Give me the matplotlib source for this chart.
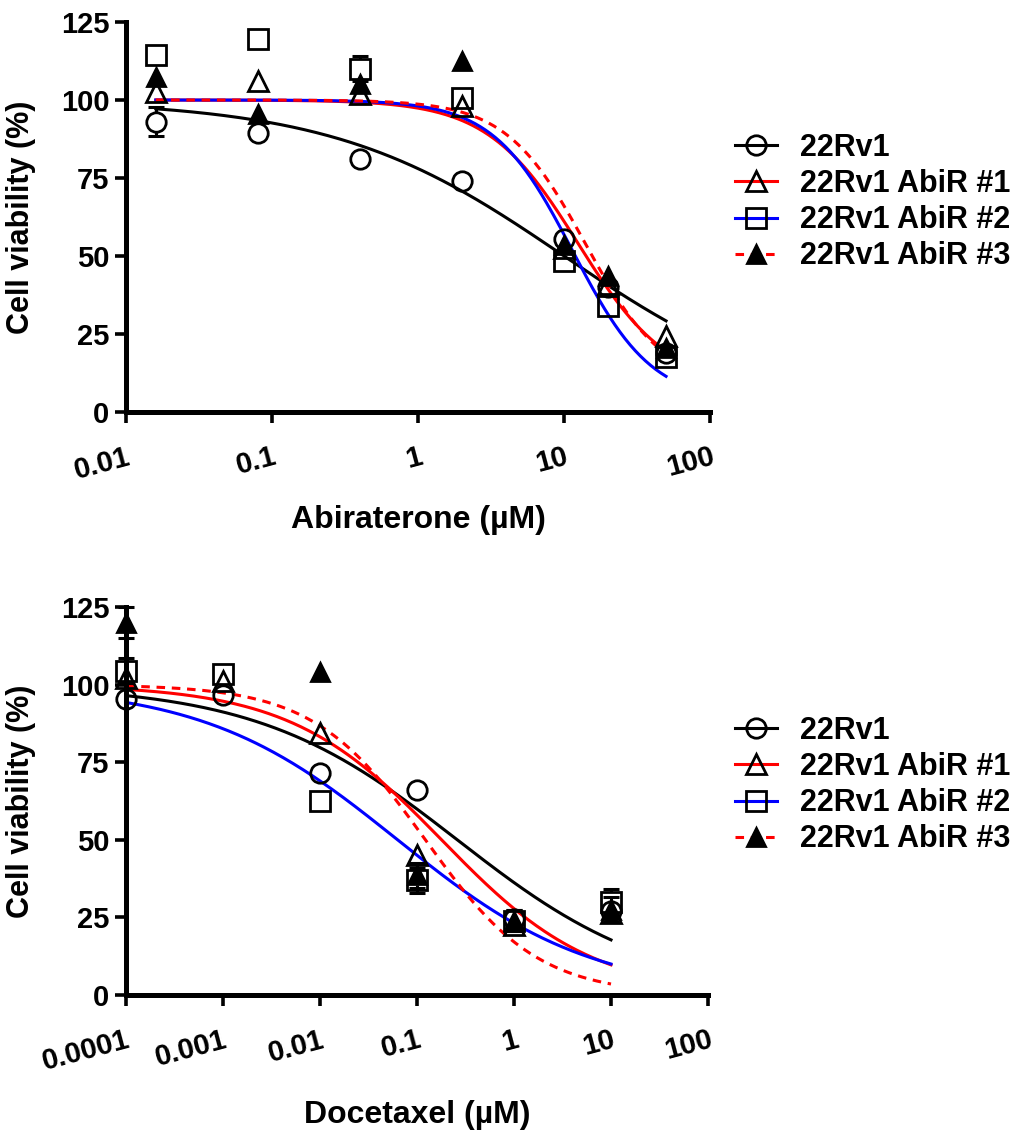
import numpy as np
import matplotlib.pyplot as plt
from matplotlib.lines import Line2D

plt.rcParams['font.family'] = ['Liberation Sans', 'DejaVu Sans']
plt.rcParams['font.weight'] = 'bold'

series_names = ["22Rv1", "22Rv1 AbiR #1", "22Rv1 AbiR #2", "22Rv1 AbiR #3"]

# Abiraterone panel
abi_conc = [0.016, 0.08, 0.4, 2, 10, 20, 50]
abi_parental = [93, 89.5, 81, 74, 55.5, 40, 19]
abi_r1 = [102.5, 106, 102, 98, 52.5, 41, 24.5]
abi_r2 = [114.5, 119.5, 110, 100.5, 48.5, 34, 17.5]
abi_r3 = [107.5, 95.5, 105, 112.5, 53.5, 43.5, 20.5]
abi_err_parental = [4.6, 0, 0, 0, 0, 0, 0]
abi_err_r2 = [0, 0, 4, 0, 0, 0, 0]
# fitted curve parameters (top, bottom, IC50, hill)
abi_fit_top = [100, 100, 100, 100]
abi_fit_bottom = [0, 8, 3, 8]
abi_fit_ic50 = [10, 12.5, 11.5, 14]
abi_fit_hill = [0.55, 1.4, 1.6, 1.6]
abi_ticks = [0.01, 0.1, 1, 10, 100]
abi_ticklabels = ["0.01", "0.1", "1", "10", "100"]

# Docetaxel panel
doc_conc = [0.0001, 0.001, 0.01, 0.1, 1, 10]
doc_parental = [95.5, 96.5, 71.5, 66, 24.5, 27]
doc_r1 = [102, 101, 84.5, 45, 22.5, 26.5]
doc_r2 = [104.5, 103.5, 62.5, 37, 24, 30]
doc_r3 = [120, np.nan, 104, 38.5, 24, 27.5]
doc_err_r2 = [4, 0, 0, 4, 3.5, 4]
doc_err_r3 = [5, 0, 0, 4, 3.5, 4]
doc_fit_top = [100, 100, 100, 100]
doc_fit_bottom = [0, 0, 0, 0]
doc_fit_ic50 = [0.26, 0.179, 0.063, 0.122]
doc_fit_hill = [0.42, 0.554, 0.434, 0.75]
doc_ticks = [0.0001, 0.001, 0.01, 0.1, 1, 10, 100]
doc_ticklabels = ["0.0001", "0.001", "0.01", "0.1", "1", "10", "100"]

yticks = [0, 25, 50, 75, 100, 125]

line_colors = ["black", "red", "blue", "red"]
line_styles = ["-", "-", "-", (0, (2.8, 2.2))]
markers = ["o", "^", "s", "^"]
marker_fill = ["none", "none", "none", "black"]
marker_sizes = [14, 14, 14.5, 13]


def logistic(x, top, bottom, ic50, hill):
    return bottom + (top - bottom) / (1 + (x / ic50) ** hill)


def draw_errors(ax, conc, vals, errs, ms):
    # GraphPad style: bars start at the marker edge, capped ends
    px_per_unit = ax.bbox.height / 125
    r = ms * 100 / 72 / 2 / px_per_unit
    for x, v, e in zip(conc, vals, errs):
        if e <= r:
            continue
        for sgn in (1, -1):
            ax.plot([x, x], [v + sgn * r, v + sgn * e], color="black", lw=2.2,
                    zorder=3, clip_on=False, solid_capstyle="butt")
            ax.plot([x], [v + sgn * e], marker="_", ms=12, mew=2.2, color="black",
                    zorder=3, clip_on=False)


def draw_panel(ax, conc, values, errors, fit, ticks, ticklabels, xlabel):
    conc = np.array(conc)
    xs = np.logspace(np.log10(conc[0]), np.log10(conc[-1]), 300)
    tops, bottoms, ic50s, hills = fit
    for i in range(4):
        ys = logistic(xs, tops[i], bottoms[i], ic50s[i], hills[i])
        ax.plot(xs, ys, color=line_colors[i], ls=line_styles[i], lw=2.2, zorder=2)
    for i in range(4):
        if errors[i] is not None:
            draw_errors(ax, conc, values[i], errors[i], marker_sizes[i])
        ax.plot(conc, values[i], ls="none", marker=markers[i], ms=marker_sizes[i],
                mfc=marker_fill[i], mec="black", mew=2.0, zorder=4, clip_on=False)

    ax.set_xscale("log")
    ax.set_xlim(ticks[0], ticks[-1])
    ax.set_ylim(0, 125)
    ax.set_xticks(ticks)
    ax.set_xticklabels(ticklabels)
    ax.minorticks_off()
    ax.set_yticks(yticks)
    ax.set_yticklabels([str(t) for t in yticks])
    for s in ["top", "right"]:
        ax.spines[s].set_visible(False)
    for s in ["left", "bottom"]:
        ax.spines[s].set_linewidth(3.6)
    ax.tick_params(axis="both", direction="out", length=8, width=2.6, labelsize=21)
    ax.tick_params(axis="x", pad=14)
    ax.tick_params(axis="y", pad=4)
    for lab in ax.get_xticklabels():
        lab.set_rotation(15)
        lab.set_ha("right")
        lab.set_va("top")
        lab.set_rotation_mode("anchor")
        lab.set_fontweight("bold")
    for lab in ax.get_yticklabels():
        lab.set_fontweight("bold")
    ax.set_xlabel(xlabel, fontsize=23, fontweight="bold")
    ax.set_ylabel("Cell viability (%)", fontsize=22, fontweight="bold")


fig = plt.figure(figsize=(10.19, 11.31), dpi=100)
W, H = 1019, 1131
ax1 = fig.add_axes([126 / W, 1 - 412 / H, 584 / W, 390 / H])
ax2 = fig.add_axes([126 / W, 1 - 995 / H, 582 / W, 388 / H])

draw_panel(ax1, abi_conc, [abi_parental, abi_r1, abi_r2, abi_r3],
           [abi_err_parental, None, abi_err_r2, None],
           (abi_fit_top, abi_fit_bottom, abi_fit_ic50, abi_fit_hill),
           abi_ticks, abi_ticklabels, "Abiraterone (\u00b5M)")
draw_panel(ax2, doc_conc, [doc_parental, doc_r1, doc_r2, doc_r3],
           [None, None, doc_err_r2, doc_err_r3],
           (doc_fit_top, doc_fit_bottom, doc_fit_ic50, doc_fit_hill),
           doc_ticks, doc_ticklabels, "Docetaxel (\u00b5M)")

ax1.xaxis.set_label_coords(0.5, -(505 - 412) / 390)
ax2.xaxis.set_label_coords(0.5, -(1100 - 995) / 388)
ax1.yaxis.set_label_coords(-(126 - 36) / 584, 0.5)
ax2.yaxis.set_label_coords(-(126 - 36) / 582, 0.5)

handles = [Line2D([], [], color=line_colors[i], ls=line_styles[i], lw=2.2,
                  marker=markers[i], ms=marker_sizes[i], mfc=marker_fill[i],
                  mec="black", mew=2.0) for i in range(4)]

for top_px in [133, 716]:
    fig.legend(handles, series_names, loc="upper left",
               bbox_to_anchor=(735 / W, 1 - top_px / H),
               frameon=False, handlelength=1.37, handletextpad=0.75,
               labelspacing=0.2, borderpad=0, borderaxespad=0,
               prop={"weight": "bold", "size": 22})

fig.savefig("out.png", dpi=100)
